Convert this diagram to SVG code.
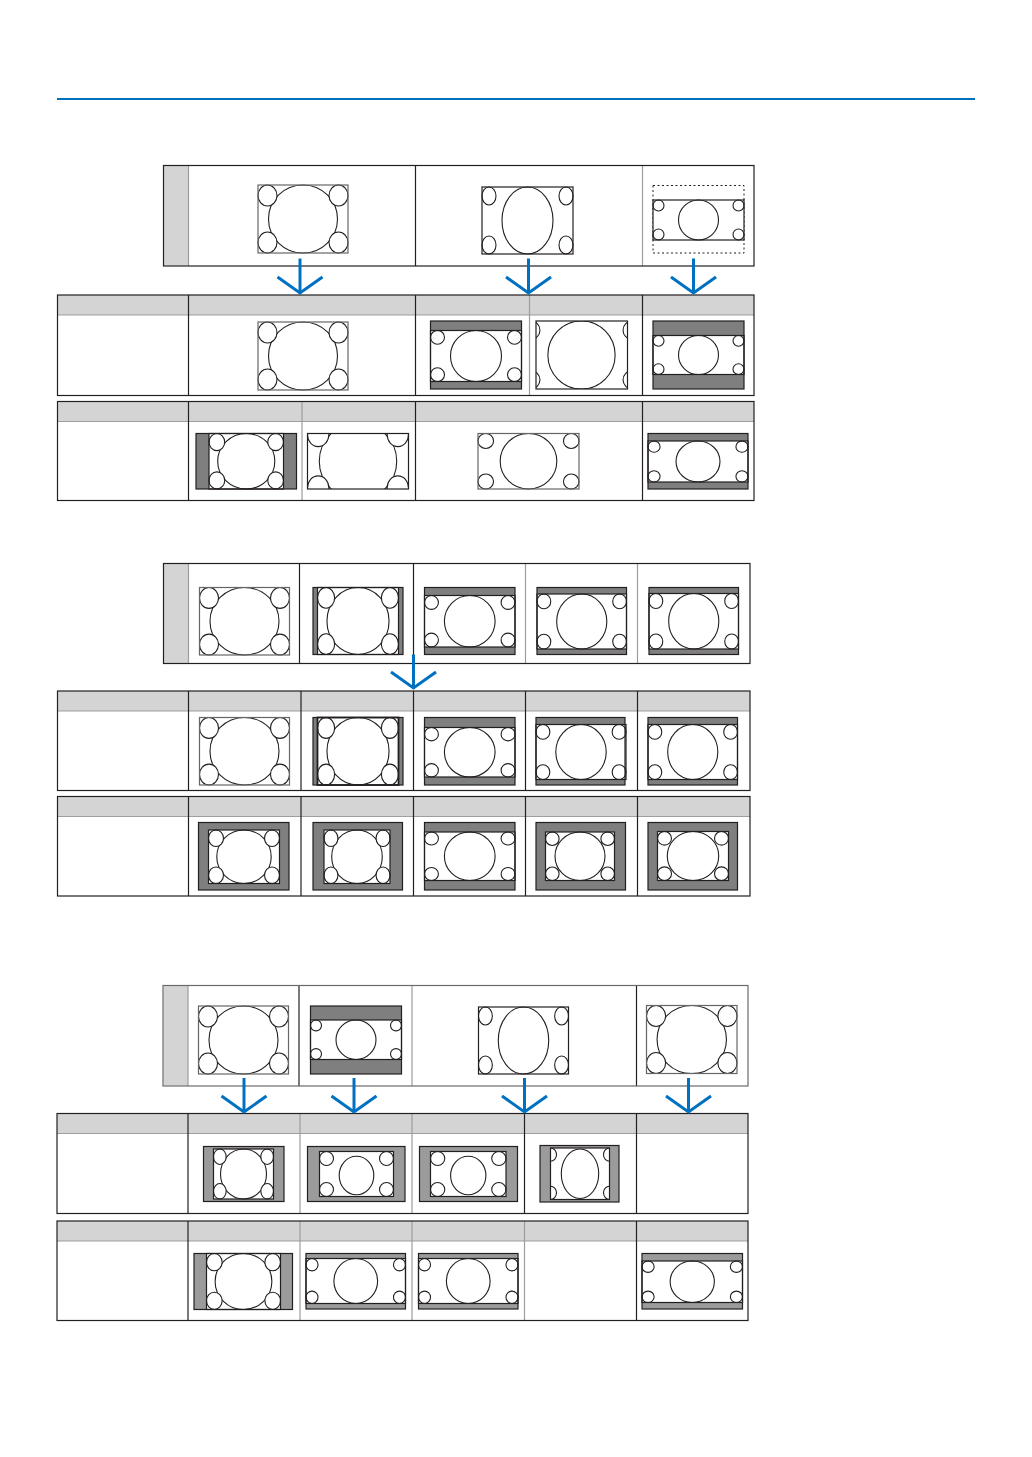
<svg xmlns="http://www.w3.org/2000/svg" width="1032" height="1457" viewBox="0 0 1032 1457">
<style>
.hd{fill:#d4d4d4}
.bd{fill:#fff}
.o{fill:none;stroke:#231f20;stroke-width:1.2}
.og{fill:none;stroke:#666;stroke-width:1.2}
.ln{stroke:#231f20;stroke-width:1.2}
.ll{stroke:#9d9d9d;stroke-width:1.2}
.hl{stroke:#8a8a8a;stroke-width:0.8}
.w{fill:#fff}
.g{fill:#7f7f7f}
.g3{fill:#9b9b9b}
.e{fill:#fff;stroke:#231f20;stroke-width:1.1;vector-effect:non-scaling-stroke}
.dot{fill:none;stroke:#231f20;stroke-width:1;stroke-dasharray:2 2.5}
.arr{fill:none;stroke:#0070c0;stroke-width:3}
</style>
<defs>
<symbol id="p43" viewBox="0 0 90 68" preserveAspectRatio="none" overflow="visible">
<ellipse class="e" cx="45" cy="34" rx="34.5" ry="34"/>
<ellipse class="e" cx="9.5" cy="10.5" rx="9.5" ry="10.5"/>
<ellipse class="e" cx="80.5" cy="10.5" rx="9.5" ry="10.5"/>
<ellipse class="e" cx="9.5" cy="57.5" rx="9.5" ry="10.5"/>
<ellipse class="e" cx="80.5" cy="57.5" rx="9.5" ry="10.5"/>
</symbol>
<symbol id="pW" viewBox="0 0 91 52" preserveAspectRatio="none" overflow="visible">
<ellipse class="e" cx="45.5" cy="26" rx="25.5" ry="26"/>
<ellipse class="e" cx="7" cy="7" rx="7" ry="7"/>
<ellipse class="e" cx="84" cy="7" rx="7" ry="7"/>
<ellipse class="e" cx="7" cy="45" rx="7" ry="7"/>
<ellipse class="e" cx="84" cy="45" rx="7" ry="7"/>
</symbol>
<symbol id="pL" viewBox="0 0 91 40" preserveAspectRatio="none" overflow="visible">
<ellipse class="e" cx="45.5" cy="20" rx="20" ry="20"/>
<ellipse class="e" cx="5.5" cy="5.5" rx="5.5" ry="5.5"/>
<ellipse class="e" cx="85.5" cy="5.5" rx="5.5" ry="5.5"/>
<ellipse class="e" cx="5.5" cy="34.5" rx="5.5" ry="5.5"/>
<ellipse class="e" cx="85.5" cy="34.5" rx="5.5" ry="5.5"/>
</symbol>
<symbol id="pM" viewBox="0 0 74 45" preserveAspectRatio="none" overflow="visible">
<ellipse class="e" cx="37" cy="24" rx="17.3" ry="19.3"/>
<ellipse class="e" cx="7" cy="7" rx="7" ry="7"/>
<ellipse class="e" cx="67" cy="7" rx="7" ry="7"/>
<ellipse class="e" cx="7" cy="38" rx="7" ry="7"/>
<ellipse class="e" cx="67" cy="38" rx="7" ry="7"/>
</symbol>
<symbol id="pS" viewBox="0 0 69 49" preserveAspectRatio="none" overflow="visible">
<ellipse class="e" cx="34.5" cy="24.5" rx="25" ry="24.5"/>
<ellipse class="e" cx="6.8" cy="6.8" rx="6.8" ry="6.8"/>
<ellipse class="e" cx="62.2" cy="6.8" rx="6.8" ry="6.8"/>
<ellipse class="e" cx="6.8" cy="42.2" rx="6.8" ry="6.8"/>
<ellipse class="e" cx="62.2" cy="42.2" rx="6.8" ry="6.8"/>
</symbol>
<symbol id="pD" viewBox="0 0 59 52" preserveAspectRatio="none" overflow="hidden">
<ellipse class="e" cx="29.5" cy="26" rx="18.7" ry="25"/>
<ellipse class="e" cx="0" cy="6.7" rx="6" ry="6.7"/>
<ellipse class="e" cx="59" cy="6.7" rx="6" ry="6.7"/>
<ellipse class="e" cx="0" cy="45.3" rx="6" ry="6.7"/>
<ellipse class="e" cx="59" cy="45.3" rx="6" ry="6.7"/>
</symbol>
<marker id="vh" viewBox="-20 -25 22 50" refX="0" refY="0" markerWidth="22" markerHeight="50" markerUnits="userSpaceOnUse" orient="auto" overflow="visible">
<path d="M-16,-22.5 L0,0 L-16,22.5" fill="none" stroke="#0070c0" stroke-width="3"/>
</marker>
</defs>

<line x1="57" y1="99" x2="975" y2="99" stroke="#0072bc" stroke-width="2"/>

<!-- ===== Section 1 ===== -->
<g id="s1-top">
<rect x="163.5" y="165.5" width="590.5" height="100.5" class="bd"/>
<rect x="164" y="166" width="24.5" height="99.5" class="hd"/>
<line x1="188.5" y1="165.5" x2="188.5" y2="266" class="ll"/>
<line x1="415.5" y1="165.5" x2="415.5" y2="266" class="ln"/>
<line x1="642.5" y1="165.5" x2="642.5" y2="266" class="ll"/>
<rect x="163.5" y="165.5" width="590.5" height="100.5" class="o"/>
</g>
<g id="s1-top-p1"><rect x="258" y="185" width="90" height="68" class="w"/><use href="#p43" x="258" y="185" width="90" height="68"/><rect x="258" y="185" width="90" height="68" class="og"/></g>
<g id="s1-top-p2"><rect x="482" y="187" width="91" height="67" class="w"/><use href="#pW" x="482" y="187" width="91" height="67"/><rect x="482" y="187" width="91" height="67" class="o"/></g>
<g id="s1-top-p3"><rect x="653" y="185.5" width="91" height="67.5" class="dot"/><rect x="653" y="200" width="91" height="40" class="w"/><use href="#pL" x="653" y="200" width="91" height="40"/><rect x="653" y="200" width="91" height="40" class="o"/></g>

<g id="s1-r2">
<rect x="57.5" y="295" width="696.5" height="100.5" class="bd"/>
<rect x="57.5" y="295" width="696.5" height="20" class="hd"/>
<line x1="57.5" y1="315" x2="754" y2="315" class="hl"/>
<line x1="188.5" y1="295" x2="188.5" y2="395.5" class="ln"/>
<line x1="415.5" y1="295" x2="415.5" y2="395.5" class="ln"/>
<line x1="529.5" y1="295" x2="529.5" y2="395.5" class="ll"/>
<line x1="642.5" y1="295" x2="642.5" y2="395.5" class="ln"/>
<rect x="57.5" y="295" width="696.5" height="100.5" class="o"/>
</g>
<g id="s1-r2-p1"><rect x="258" y="322" width="90" height="68" class="w"/><use href="#p43" x="258" y="322" width="90" height="68"/><rect x="258" y="322" width="90" height="68" class="og"/></g>
<g id="s1-r2-p2"><rect x="430.5" y="321" width="91" height="68" class="g"/><rect x="430.5" y="330.5" width="91" height="51" class="w"/><use href="#pW" x="430.5" y="330.5" width="91" height="51"/><rect x="430.5" y="330.5" width="91" height="51" class="o"/><rect x="430.5" y="321" width="91" height="68" class="o"/></g>
<g id="s1-r2-p3"><rect x="536" y="321" width="91.5" height="68" class="w"/><svg x="536" y="321" width="91.5" height="68" overflow="hidden"><use href="#pW" x="-14.5" y="0" width="120" height="68"/></svg><rect x="536" y="321" width="91.5" height="68" class="o"/></g>
<g id="s1-r2-p4"><rect x="653" y="321" width="91" height="68" class="g"/><rect x="653" y="335.5" width="91" height="39" class="w"/><use href="#pL" x="653" y="335.5" width="91" height="39"/><rect x="653" y="335.5" width="91" height="39" class="o"/><rect x="653" y="321" width="91" height="68" class="o"/></g>

<g id="s1-r3">
<rect x="57.5" y="401.5" width="696.5" height="99" class="bd"/>
<rect x="57.5" y="401.5" width="696.5" height="20" class="hd"/>
<line x1="57.5" y1="421.5" x2="754" y2="421.5" class="hl"/>
<line x1="188.5" y1="401.5" x2="188.5" y2="500.5" class="ln"/>
<line x1="302" y1="401.5" x2="302" y2="500.5" class="ll"/>
<line x1="415.5" y1="401.5" x2="415.5" y2="500.5" class="ln"/>
<line x1="642.5" y1="401.5" x2="642.5" y2="500.5" class="ln"/>
<rect x="57.5" y="401.5" width="696.5" height="99" class="o"/>
</g>
<g id="s1-r3-p1"><rect x="196" y="433.5" width="100.5" height="55.5" class="g"/><rect x="209" y="433.5" width="74.5" height="55.5" class="w"/><use href="#p43" x="209" y="433.5" width="74.5" height="55.5"/><rect x="209" y="433.5" width="74.5" height="55.5" class="o"/><rect x="196" y="433.5" width="100.5" height="55.5" class="o"/></g>
<g id="s1-r3-p2"><rect x="307.5" y="433.5" width="101" height="55.5" class="w"/><svg x="307.5" y="433.5" width="101" height="55.5" overflow="hidden"><use href="#p43" x="0" y="-10.5" width="101" height="76.5"/></svg><rect x="307.5" y="433.5" width="101" height="55.5" class="o"/></g>
<g id="s1-r3-p3"><rect x="478" y="433.5" width="101" height="55.5" class="w"/><use href="#pW" x="478" y="433.5" width="101" height="55.5"/><rect x="478" y="433.5" width="101" height="55.5" class="og"/></g>
<g id="s1-r3-p4"><rect x="648" y="433.5" width="100" height="55.5" class="g"/><rect x="648" y="441" width="100" height="41" class="w"/><use href="#pL" x="648" y="441" width="100" height="41"/><rect x="648" y="441" width="100" height="41" class="o"/><rect x="648" y="433.5" width="100" height="55.5" class="o"/></g>

<!-- ===== Section 2 ===== -->
<g id="s2-top">
<rect x="163.5" y="563.5" width="586.5" height="100" class="bd"/>
<rect x="164" y="564" width="24.5" height="99" class="hd"/>
<line x1="188.5" y1="563.5" x2="188.5" y2="663.5" class="ll"/>
<line x1="299.5" y1="563.5" x2="299.5" y2="663.5" class="ln"/>
<line x1="413.5" y1="563.5" x2="413.5" y2="663.5" class="ln"/>
<line x1="525.5" y1="563.5" x2="525.5" y2="663.5" class="ll"/>
<line x1="637.5" y1="563.5" x2="637.5" y2="663.5" class="ll"/>
<rect x="163.5" y="563.5" width="586.5" height="100" class="o"/>
</g>
<g id="s2-top-p1"><rect x="199.5" y="587.5" width="90" height="67.5" class="w"/><use href="#p43" x="199.5" y="587.5" width="90" height="67.5"/><rect x="199.5" y="587.5" width="90" height="67.5" class="og"/></g>
<g id="s2-top-p2"><rect x="313" y="587.5" width="90" height="67" class="g"/><rect x="317.5" y="587.5" width="81" height="67" class="w"/><use href="#p43" x="317.5" y="587.5" width="81" height="67"/><rect x="317.5" y="587.5" width="81" height="67" class="o"/><rect x="313" y="587.5" width="90" height="67" class="o"/></g>
<g id="s2-top-p3"><rect x="424.5" y="587.5" width="90.5" height="67" class="g"/><rect x="424.5" y="595.5" width="90.5" height="51.5" class="w"/><use href="#pW" x="424.5" y="595.5" width="90.5" height="51.5"/><rect x="424.5" y="595.5" width="90.5" height="51.5" class="o"/><rect x="424.5" y="587.5" width="90.5" height="67" class="o"/></g>
<g id="s2-top-p4"><rect x="537" y="587.5" width="89.5" height="67" class="g"/><rect x="537" y="594" width="89.5" height="55" class="w"/><use href="#pW" x="537" y="594" width="89.5" height="55"/><rect x="537" y="594" width="89.5" height="55" class="o"/><rect x="537" y="587.5" width="89.5" height="67" class="o"/></g>
<g id="s2-top-p5"><rect x="649" y="587.5" width="89.5" height="67" class="g"/><rect x="649" y="593.5" width="89.5" height="55.5" class="w"/><use href="#pW" x="649" y="593.5" width="89.5" height="55.5"/><rect x="649" y="593.5" width="89.5" height="55.5" class="o"/><rect x="649" y="587.5" width="89.5" height="67" class="o"/></g>

<g id="s2-r2">
<rect x="57.5" y="691" width="692.5" height="99.5" class="bd"/>
<rect x="57.5" y="691" width="692.5" height="20" class="hd"/>
<line x1="57.5" y1="711" x2="750" y2="711" class="hl"/>
<line x1="188.5" y1="691" x2="188.5" y2="790.5" class="ln"/>
<line x1="301" y1="691" x2="301" y2="790.5" class="ln"/>
<line x1="413.5" y1="691" x2="413.5" y2="790.5" class="ln"/>
<line x1="525.5" y1="691" x2="525.5" y2="790.5" class="ln"/>
<line x1="637.5" y1="691" x2="637.5" y2="790.5" class="ln"/>
<rect x="57.5" y="691" width="692.5" height="99.5" class="o"/>
</g>
<g id="s2-r2-p1"><rect x="199.5" y="717.5" width="90" height="67.5" class="w"/><use href="#p43" x="199.5" y="717.5" width="90" height="67.5"/><rect x="199.5" y="717.5" width="90" height="67.5" class="og"/></g>
<g id="s2-r2-p2"><rect x="313" y="717.5" width="90" height="67.5" class="g"/><rect x="317.5" y="717.5" width="81" height="67.5" class="w"/><use href="#p43" x="317.5" y="717.5" width="81" height="67.5"/><rect x="317.5" y="717.5" width="81" height="67.5" fill="none" stroke="#231f20" stroke-width="1.8"/><rect x="313" y="717.5" width="90" height="67.5" class="o"/></g>
<g id="s2-r2-p3"><rect x="424.5" y="717.5" width="90.5" height="67.5" class="g"/><rect x="424.5" y="727.5" width="90.5" height="49.5" class="w"/><use href="#pW" x="424.5" y="727.5" width="90.5" height="49.5"/><rect x="424.5" y="727.5" width="90.5" height="49.5" class="o"/><rect x="424.5" y="717.5" width="90.5" height="67.5" class="o"/></g>
<g id="s2-r2-p4"><rect x="536" y="717.5" width="89" height="67.5" class="g"/><rect x="536" y="724.5" width="90" height="55" class="w"/><use href="#pW" x="536" y="724.5" width="90" height="55"/><rect x="536" y="724.5" width="90" height="55" class="o"/><rect x="536" y="717.5" width="89" height="67.5" class="o"/></g>
<g id="s2-r2-p5"><rect x="648" y="717.5" width="89.5" height="67.5" class="g"/><rect x="648" y="724.5" width="89.5" height="55" class="w"/><use href="#pW" x="648" y="724.5" width="89.5" height="55"/><rect x="648" y="724.5" width="89.5" height="55" class="o"/><rect x="648" y="717.5" width="89.5" height="67.5" class="o"/></g>

<g id="s2-r3">
<rect x="57.5" y="796.5" width="692.5" height="99.5" class="bd"/>
<rect x="57.5" y="796.5" width="692.5" height="20" class="hd"/>
<line x1="57.5" y1="816.5" x2="750" y2="816.5" class="hl"/>
<line x1="188.5" y1="796.5" x2="188.5" y2="896" class="ln"/>
<line x1="301" y1="796.5" x2="301" y2="896" class="ln"/>
<line x1="413.5" y1="796.5" x2="413.5" y2="896" class="ln"/>
<line x1="525.5" y1="796.5" x2="525.5" y2="896" class="ln"/>
<line x1="637.5" y1="796.5" x2="637.5" y2="896" class="ln"/>
<rect x="57.5" y="796.5" width="692.5" height="99.5" class="o"/>
</g>
<g id="s2-r3-p1"><rect x="198.5" y="822.5" width="90.5" height="67.5" class="g"/><rect x="208.5" y="830" width="71" height="53.5" class="w"/><use href="#p43" x="208.5" y="830" width="71" height="53.5"/><rect x="208.5" y="830" width="71" height="53.5" class="o"/><rect x="198.5" y="822.5" width="90.5" height="67.5" class="o"/></g>
<g id="s2-r3-p2"><rect x="313" y="822.5" width="89.5" height="67.5" class="g"/><rect x="324" y="830" width="66" height="53.5" class="w"/><use href="#p43" x="324" y="830" width="66" height="53.5"/><rect x="324" y="830" width="66" height="53.5" class="o"/><rect x="313" y="822.5" width="89.5" height="67.5" class="o"/></g>
<g id="s2-r3-p3"><rect x="424.5" y="822.5" width="90.5" height="67.5" class="g"/><rect x="424.5" y="832" width="90.5" height="48.5" class="w"/><use href="#pW" x="424.5" y="832" width="90.5" height="48.5"/><rect x="424.5" y="832" width="90.5" height="48.5" class="o"/><rect x="424.5" y="822.5" width="90.5" height="67.5" class="o"/></g>
<g id="s2-r3-p4"><rect x="536" y="822.5" width="89.5" height="67.5" class="g"/><rect x="545.5" y="832" width="69" height="48.5" class="w"/><use href="#pS" x="545.5" y="832" width="69" height="48.5"/><rect x="545.5" y="832" width="69" height="48.5" class="o"/><rect x="536" y="822.5" width="89.5" height="67.5" class="o"/></g>
<g id="s2-r3-p5"><rect x="648" y="822.5" width="89.5" height="67.5" class="g"/><rect x="657.5" y="831.5" width="71" height="49" class="w"/><use href="#pS" x="657.5" y="831.5" width="71" height="49"/><rect x="657.5" y="831.5" width="71" height="49" class="o"/><rect x="648" y="822.5" width="89.5" height="67.5" class="o"/></g>

<!-- ===== Section 3 ===== -->
<g id="s3-top">
<rect x="163" y="985.5" width="585" height="100.5" class="bd"/>
<rect x="163.5" y="986" width="24.5" height="99.5" class="hd"/>
<line x1="188" y1="985.5" x2="188" y2="1086" class="ll"/>
<line x1="299" y1="985.5" x2="299" y2="1086" class="ln"/>
<line x1="412" y1="985.5" x2="412" y2="1086" class="ll"/>
<line x1="636.5" y1="985.5" x2="636.5" y2="1086" class="ln"/>
<rect x="163" y="985.5" width="585" height="100.5" fill="none" stroke="#6a6a6a" stroke-width="1.2"/>
</g>
<g id="s3-top-p1"><rect x="198.5" y="1006" width="90" height="68" class="w"/><use href="#p43" x="198.5" y="1006" width="90" height="68"/><rect x="198.5" y="1006" width="90" height="68" class="og"/></g>
<g id="s3-top-p2"><rect x="310.5" y="1006" width="91" height="68" class="g"/><rect x="310.5" y="1020" width="91" height="39.5" class="w"/><use href="#pL" x="310.5" y="1020" width="91" height="39.5"/><rect x="310.5" y="1020" width="91" height="39.5" class="o"/><rect x="310.5" y="1006" width="91" height="68" class="o"/></g>
<g id="s3-top-p3"><rect x="478.5" y="1007" width="90" height="67" class="w"/><use href="#pW" x="478.5" y="1007" width="90" height="67"/><rect x="478.5" y="1007" width="90" height="67" class="o"/></g>
<g id="s3-top-p4"><rect x="646.5" y="1005.5" width="90.5" height="68" class="w"/><use href="#p43" x="646.5" y="1005.5" width="90.5" height="68"/><rect x="646.5" y="1005.5" width="90.5" height="68" class="og"/></g>

<g id="s3-r2">
<rect x="57" y="1113.5" width="691" height="100" class="bd"/>
<rect x="57" y="1113.5" width="691" height="20" class="hd"/>
<line x1="57" y1="1133.5" x2="748" y2="1133.5" class="hl"/>
<line x1="188" y1="1113.5" x2="188" y2="1213.5" class="ln"/>
<line x1="300" y1="1113.5" x2="300" y2="1213.5" class="ll"/>
<line x1="412" y1="1113.5" x2="412" y2="1213.5" class="ll"/>
<line x1="524.5" y1="1113.5" x2="524.5" y2="1213.5" class="ln"/>
<line x1="636.5" y1="1113.5" x2="636.5" y2="1213.5" class="ln"/>
<rect x="57" y="1113.5" width="691" height="100" class="o"/>
</g>
<g id="s3-r2-p1"><rect x="203.5" y="1146.5" width="80.5" height="55" class="g3"/><rect x="213.5" y="1149" width="60" height="50" class="w"/><use href="#p43" x="213.5" y="1149" width="60" height="50"/><rect x="213.5" y="1149" width="60" height="50" class="o"/><rect x="203.5" y="1146.5" width="80.5" height="55" class="o"/></g>
<g id="s3-r2-p2"><rect x="307.5" y="1146.5" width="97.5" height="55" class="g3"/><rect x="319.5" y="1151.5" width="74" height="45" class="w"/><use href="#pM" x="319.5" y="1151.5" width="74" height="45"/><rect x="319.5" y="1151.5" width="74" height="45" class="o"/><rect x="307.5" y="1146.5" width="97.5" height="55" class="o"/></g>
<g id="s3-r2-p3"><rect x="419.5" y="1146.5" width="98" height="55" class="g3"/><rect x="430.5" y="1151.5" width="75.5" height="45" class="w"/><use href="#pM" x="430.5" y="1151.5" width="75.5" height="45"/><rect x="430.5" y="1151.5" width="75.5" height="45" class="o"/><rect x="419.5" y="1146.5" width="98" height="55" class="o"/></g>
<g id="s3-r2-p4"><rect x="540" y="1145.5" width="79" height="56.5" class="g3"/><rect x="550.5" y="1148" width="59" height="51.5" class="w"/><use href="#pD" x="550.5" y="1148" width="59" height="51.5"/><rect x="550.5" y="1148" width="59" height="51.5" class="o"/><rect x="540" y="1145.5" width="79" height="56.5" class="o"/></g>

<g id="s3-r3">
<rect x="57" y="1221" width="691" height="99.5" class="bd"/>
<rect x="57" y="1221" width="691" height="20" class="hd"/>
<line x1="57" y1="1241" x2="748" y2="1241" class="hl"/>
<line x1="188" y1="1221" x2="188" y2="1320.5" class="ln"/>
<line x1="300" y1="1221" x2="300" y2="1320.5" class="ll"/>
<line x1="412" y1="1221" x2="412" y2="1320.5" class="ll"/>
<line x1="524.5" y1="1221" x2="524.5" y2="1320.5" class="ll"/>
<line x1="636.5" y1="1221" x2="636.5" y2="1320.5" class="ln"/>
<rect x="57" y="1221" width="691" height="99.5" class="o"/>
</g>
<g id="s3-r3-p1"><rect x="194" y="1253.5" width="98.5" height="56" class="g3"/><rect x="206.5" y="1253.5" width="74" height="56" class="w"/><use href="#p43" x="206.5" y="1253.5" width="74" height="56"/><rect x="206.5" y="1253.5" width="74" height="56" class="o"/><rect x="194" y="1253.5" width="98.5" height="56" class="o"/></g>
<g id="s3-r3-p2"><rect x="306" y="1253.5" width="99.5" height="55.5" class="g3"/><rect x="306" y="1258.5" width="99.5" height="45" class="w"/><use href="#pL" x="306" y="1258.5" width="99.5" height="45"/><rect x="306" y="1258.5" width="99.5" height="45" class="o"/><rect x="306" y="1253.5" width="99.5" height="55.5" class="o"/></g>
<g id="s3-r3-p3"><rect x="418.5" y="1253.5" width="99.5" height="55.5" class="g3"/><rect x="418.5" y="1258.5" width="99.5" height="45" class="w"/><use href="#pL" x="418.5" y="1258.5" width="99.5" height="45"/><rect x="418.5" y="1258.5" width="99.5" height="45" class="o"/><rect x="418.5" y="1253.5" width="99.5" height="55.5" class="o"/></g>
<g id="s3-r3-p5"><rect x="642" y="1253.5" width="100.5" height="55.5" class="g3"/><rect x="642" y="1261" width="100.5" height="41.5" class="w"/><use href="#pL" x="642" y="1261" width="100.5" height="41.5"/><rect x="642" y="1261" width="100.5" height="41.5" class="o"/><rect x="642" y="1253.5" width="100.5" height="55.5" class="o"/></g>

<g id="connectors">
<line x1="300" y1="258.5" x2="300" y2="293" class="arr" marker-end="url(#vh)"/>
<line x1="528.5" y1="258.5" x2="528.5" y2="293" class="arr" marker-end="url(#vh)"/>
<line x1="693.5" y1="258.5" x2="693.5" y2="293" class="arr" marker-end="url(#vh)"/>
<line x1="413.5" y1="654.5" x2="413.5" y2="688" class="arr" marker-end="url(#vh)"/>
<line x1="244" y1="1078" x2="244" y2="1112" class="arr" marker-end="url(#vh)"/>
<line x1="354" y1="1078" x2="354" y2="1112" class="arr" marker-end="url(#vh)"/>
<line x1="524.5" y1="1078" x2="524.5" y2="1112" class="arr" marker-end="url(#vh)"/>
<line x1="688.5" y1="1078" x2="688.5" y2="1112" class="arr" marker-end="url(#vh)"/>
</g>
</svg>
